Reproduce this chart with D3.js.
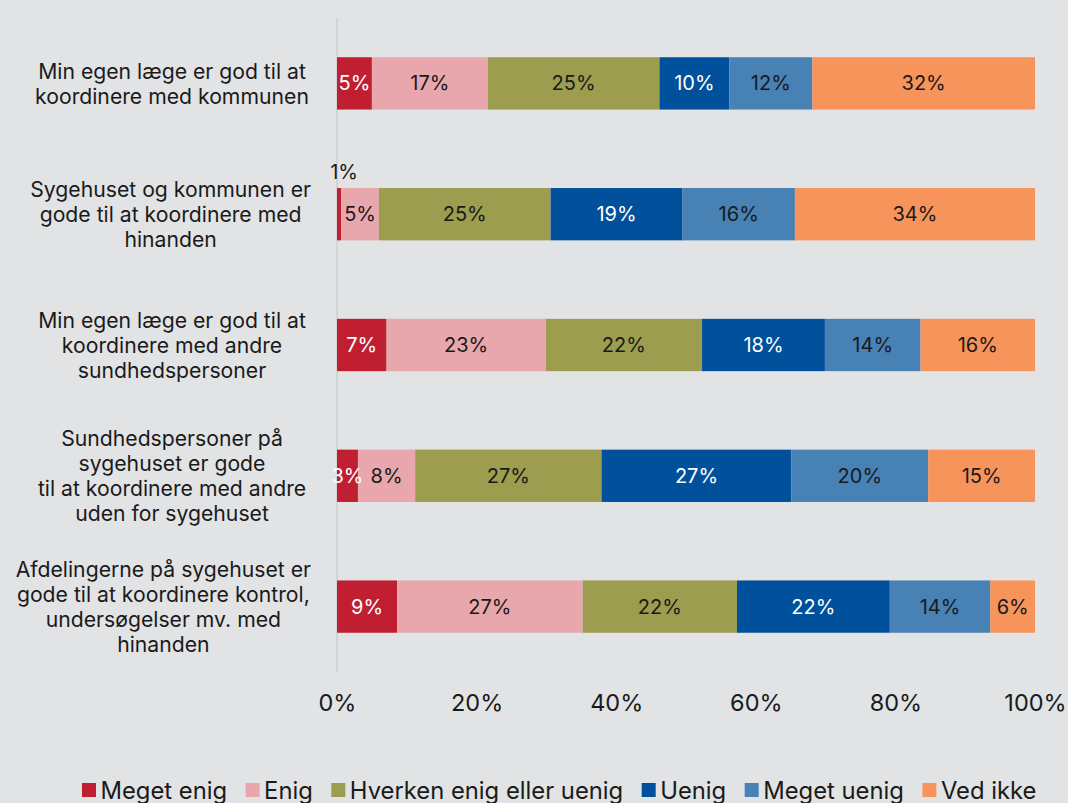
<!DOCTYPE html>
<html>
<head>
<meta charset="utf-8">
<script src="https://cdn.jsdelivr.net/npm/d3@7"></script>
<style>
  html, body { margin: 0; padding: 0; background: #e2e3e5; }
  svg { display: block; font-family: Inter, "Noto Sans", sans-serif; }
</style>
</head>
<body>
<svg id="chart" width="1068" height="803"></svg>
<script>
// Survey statements (one bar each), top to bottom
const statements = [
  ["Min egen læge er god til at", "koordinere med kommunen"],
  ["Sygehuset og kommunen er", "gode til at koordinere med", "hinanden"],
  ["Min egen læge er god til at", "koordinere med andre", "sundhedspersoner"],
  ["Sundhedspersoner på", "sygehuset er gode", "til at koordinere med andre", "uden for sygehuset"],
  ["Afdelingerne på sygehuset er", "gode til at koordinere kontrol,", "undersøgelser mv. med", "hinanden"]
];

// Answer categories
const answers = ["Meget enig", "Enig", "Hverken enig eller uenig", "Uenig", "Meget uenig", "Ved ikke"];
const colors  = ["#c01f32", "#e8a7ad", "#9c9d4e", "#00509b", "#4881b4", "#f6945b"];
const labelColors = ["#ffffff", "#1a1a1a", "#1a1a1a", "#ffffff", "#1a1a1a", "#1a1a1a"];

// Share of respondents (%) per answer, one array per answer, in statement order
const megetEnig  = [5.0, 0.6, 7.1, 3.0, 8.6];
const enig       = [16.6, 5.4, 22.8, 8.2, 26.6];
const hverken    = [24.6, 24.6, 22.4, 26.7, 22.1];
const uenig      = [10.0, 18.9, 17.6, 27.2, 21.9];
const megetUenig = [11.9, 16.1, 13.7, 19.6, 14.4];
const vedIkke    = [31.9, 34.4, 16.4, 15.3, 6.4];

const xTicks = [0, 0.2, 0.4, 0.6, 0.8, 1.0];

const seriesValues = [megetEnig, enig, hverken, uenig, megetUenig, vedIkke];
const rows = statements.map((s, i) => {
  const r = { id: i };
  answers.forEach((a, j) => { r[a] = seriesValues[j][i]; });
  return r;
});

const svg = d3.select("#chart");
const plot = { left: 337, right: 1035, top: 18, bottom: 672 };

const x = d3.scaleLinear().domain([0, 1]).range([plot.left, plot.right]);
const y = d3.scaleBand().domain(rows.map(r => r.id)).range([plot.top, plot.bottom]).paddingInner(0.6).paddingOuter(0.3);

const stack = d3.stack().keys(answers).offset(d3.stackOffsetExpand);
const layers = stack(rows);

// Vertical baseline at 0%
svg.append("line")
  .attr("x1", x(0)).attr("x2", x(0))
  .attr("y1", plot.top).attr("y2", plot.bottom)
  .attr("stroke", "#d3d4d6").attr("stroke-width", 2);

// Stacked segments
const groups = svg.append("g").selectAll("g").data(layers).join("g")
  .attr("fill", (d, i) => colors[i]);

groups.selectAll("rect").data(d => d).join("rect")
  .attr("x", d => x(d[0]))
  .attr("y", d => y(d.data.id))
  .attr("width", d => x(d[1]) - x(d[0]))
  .attr("height", y.bandwidth());

// Value labels
const fmt = d3.format(".0f");
layers.forEach((layer, li) => {
  layer.forEach(d => {
    const v = d.data[answers[li]];
    const w = x(d[1]) - x(d[0]);
    const cx = (x(d[0]) + x(d[1])) / 2;
    const small = w < 8;
    svg.append("text")
      .attr("x", small ? cx + 5 : cx)
      .attr("y", small ? y(d.data.id) - 16 : y(d.data.id) + y.bandwidth() / 2)
      .attr("text-anchor", "middle")
      .attr("dominant-baseline", "central")
      .attr("font-size", 20)
      .attr("fill", small ? "#1a1a1a" : labelColors[li])
      .text(fmt(v) + "%");
  });
});

// X axis tick labels
const axis = d3.axisBottom(x).tickValues(xTicks).tickFormat(d3.format(".0%")).tickSize(0).tickPadding(0);
const ax = svg.append("g").attr("transform", `translate(0, ${plot.bottom + 22})`).call(axis);
ax.select(".domain").remove();
ax.selectAll("text")
  .attr("font-family", "Inter, 'Noto Sans', sans-serif")
  .attr("font-size", 23.5)
  .attr("fill", "#1a1a1a")
  .attr("dy", "0.71em");

// Category labels, centered blocks kept clear of the bars
const lineH = 25;
statements.forEach((lines, i) => {
  const cy = y(i) + y.bandwidth() / 2;
  const g = svg.append("g");
  const t = g.append("text")
    .attr("text-anchor", "middle")
    .attr("font-size", 21.2)
    .attr("fill", "#1a1a1a");
  lines.forEach((ln, k) => {
    t.append("tspan")
      .attr("x", 0)
      .attr("y", cy + (k - (lines.length - 1) / 2) * lineH)
      .attr("dominant-baseline", "central")
      .text(ln);
  });
  const maxW = d3.max(t.selectAll("tspan").nodes(), n => n.getComputedTextLength());
  const cx = Math.min(172, 311 - maxW / 2);
  g.attr("transform", `translate(${cx}, 0)`);
});

// Legend
const legend = svg.append("g").attr("transform", "translate(82, 790)");
let lx = 0;
answers.forEach((a, i) => {
  const item = legend.append("g").attr("transform", `translate(${lx}, 0)`);
  item.append("rect").attr("x", 0).attr("y", -7).attr("width", 14).attr("height", 14).attr("fill", colors[i]);
  const t = item.append("text")
    .attr("x", 18.5).attr("y", 0)
    .attr("dominant-baseline", "central")
    .attr("font-size", 23.8)
    .attr("fill", "#1a1a1a")
    .text(a);
  lx += 18.5 + t.node().getComputedTextLength() + 18.5;
});
</script>
</body>
</html>
